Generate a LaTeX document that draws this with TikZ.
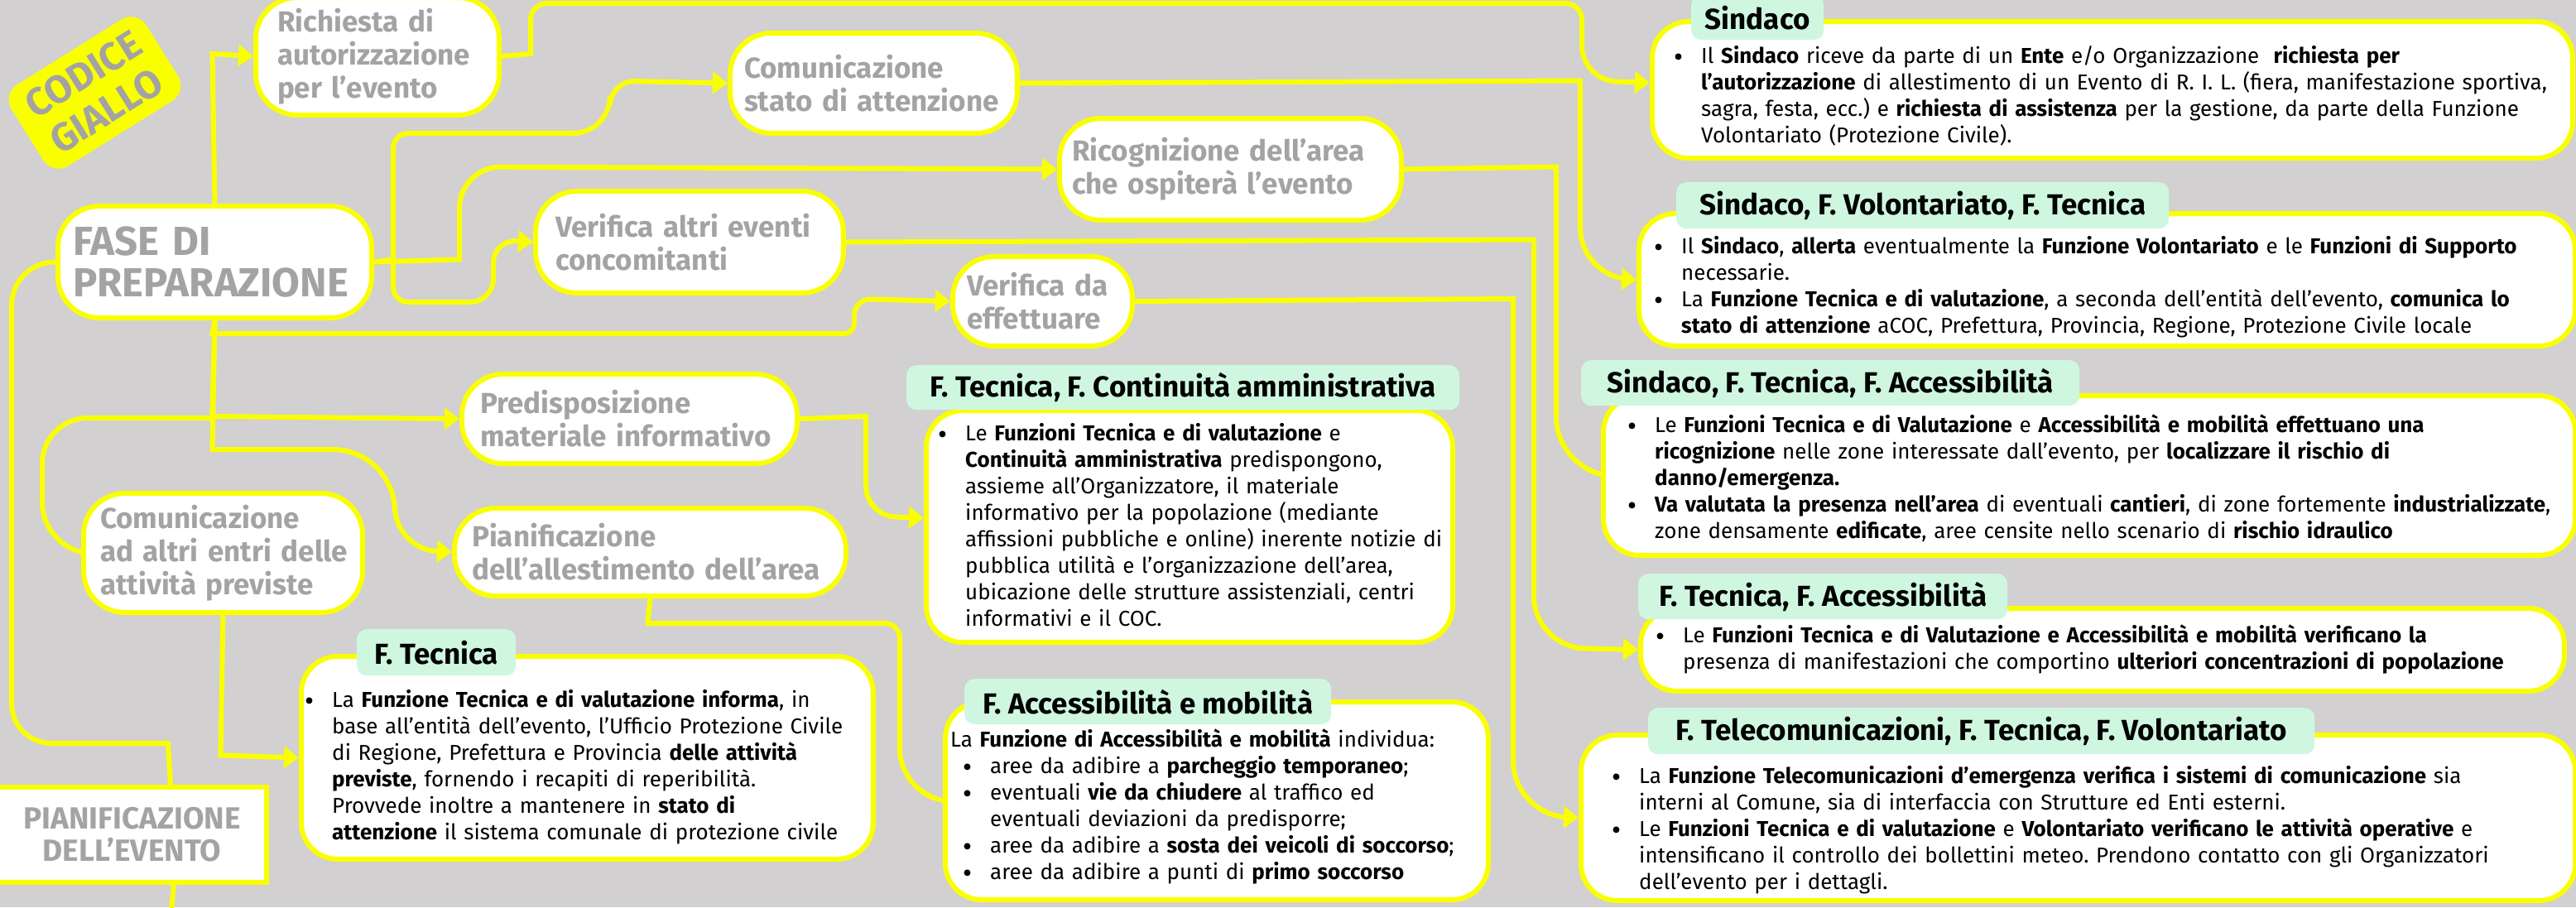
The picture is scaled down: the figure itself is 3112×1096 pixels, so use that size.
\documentclass[tikz,border=0pt]{standalone}
\usepackage{fontspec}
\setmainfont{Fira Sans}
\usepackage{enumitem}
\usetikzlibrary{arrows.meta}

\definecolor{giallo}{RGB}{250,255,0}
\definecolor{sfondo}{RGB}{210,208,209}
\definecolor{grigio}{RGB}{163,163,163}
\definecolor{menta}{RGB}{207,247,224}

\newcommand{\txtbody}{\fontsize{26}{32}\selectfont}
\newcommand{\txtlab}{\fontsize{35}{40}\selectfont\bfseries}
\newcommand{\txtfase}{\fontsize{49}{50}\selectfont\bfseries}
\newcommand{\txttab}{\fontsize{35}{40}\selectfont\bfseries}
\newcommand{\txtpian}{\fontsize{37}{39}\selectfont\bfseries}
\newcommand{\txtcod}{\fontsize{47}{52}\selectfont\bfseries}

\setlength{\parindent}{0pt}
\setlist[itemize]{label={\raisebox{-4pt}{\fontsize{34}{32}\selectfont\textbullet}}, leftmargin=36pt,
    labelsep=22pt, labelwidth=14pt, itemsep=0pt, topsep=0pt, parsep=0pt, partopsep=0pt}

\pgfdeclarelayer{bg}
\pgfdeclarelayer{wires}
\pgfsetlayers{bg,wires,main}

\tikzset{
    wire/.style={draw=giallo, line width=6pt},
    link/.style={wire, -{Triangle[length=18pt,width=26pt]}},
    rc/.style={rounded corners=#1pt},
    phase/.style={draw=giallo, fill=white, line width=6pt, rounded corners=50pt,
        text=grigio, font=\txtlab, align=left, anchor=north west, inner ysep=0pt},
    infobox/.style={draw=giallo, fill=white, line width=6pt, rounded corners=44pt,
        anchor=north west, inner sep=0pt},
    tab/.style={fill=menta, rounded corners=12pt, anchor=north west, inner sep=0pt,
        font=\txttab, align=center},
    body/.style={anchor=north west, inner sep=0pt, text width=1200pt, align=left,
        font=\txtbody}
}

\begin{document}
\frenchspacing\hyphenpenalty=10000
\begin{tikzpicture}[x=1pt,y=-1pt]
    \useasboundingbox (0,0) rectangle (3112,1096);
    \begin{pgfonlayer}{bg}
        \fill[sfondo] (0,0) rectangle (3112,1096);
    \end{pgfonlayer}

    \node[fill=giallo, rounded corners=22pt, rotate=32, minimum width=192pt, minimum height=116pt,
        text=grigio, font=\txtcod, align=center, inner sep=0pt] (codice) at (114.5,112) {CODICE\\GIALLO};

    % fasi
    \node[phase, font=\txtfase, minimum height=135pt, text width=343pt, inner xsep=18pt] (fase) at (67,246) {FASE DI\\\mbox{PREPARAZIONE}};
    \node[phase, minimum height=142pt, text width=242pt, inner xsep=26pt] (rich) at (306,-6) {Richiesta di\\\mbox{autorizzazione}\\per l’evento};
    \node[phase, minimum height=121pt, text width=313pt, inner xsep=17pt] (comst) at (879,37) {Comunicazione\\\mbox{stato di attenzione}};
    \node[phase, minimum height=123pt, text width=383pt, inner xsep=15pt] (ricog) at (1277,140) {\mbox{Ricognizione dell’area}\\\mbox{che ospiterà l’evento}};
    \node[phase, minimum height=123pt, text width=324pt, inner xsep=24pt] (veralt) at (644,228) {\mbox{Verifica altri eventi}\\concomitanti};
    \node[phase, minimum height=108pt, text width=183pt, inner xsep=17pt] (verda) at (1148,307) {\mbox{Verifica da}\\effettuare};
    \node[phase, minimum height=108pt, text width=361pt, inner xsep=22pt] (predisp) at (555,449) {Predisposizione\\\mbox{materiale informativo}};
    \node[phase, minimum height=144pt, text width=297pt, inner xsep=20pt] (comalt) at (98,593) {Comunicazione\\\mbox{ad altri entri delle}\\\mbox{attività previste}};
    \node[phase, minimum height=106pt, text width=431pt, inner xsep=21pt] (pianall) at (546,611) {Pianificazione\\\mbox{dell’allestimento dell’area}};
    \node[phase, sharp corners, font=\txtpian, align=center, minimum width=325pt, minimum height=115pt] (pianev) at (-6,948) {PIANIFICAZIONE\\DELL’EVENTO};

    % riquadri
    \node[infobox, minimum width=1112pt, minimum height=165pt] (sind) at (1993,23) {};
    \node[infobox, minimum width=1131pt, minimum height=160pt] (sindvol) at (1977,255) {};
    \node[infobox, minimum width=1174pt, minimum height=193pt] (sindtec) at (1934,475) {};
    \node[infobox, minimum width=1116pt, minimum height=100pt] (tecacc) at (1979,732) {};
    \node[infobox, minimum width=1201pt, minimum height=200pt] (telecom) at (1907,885) {};
    \node[infobox, minimum width=636pt, minimum height=280pt] (contin) at (1116,493) {};
    \node[infobox, minimum width=656pt, minimum height=239pt] (accmob) at (1139,845) {};
    \node[infobox, minimum width=691pt, minimum height=245pt] (tecn) at (361,790) {};

    \node[tab, minimum width=160pt, minimum height=54pt] (tsind) at (2043,-6) {Sindaco};
    \node[tab, minimum width=595pt, minimum height=56pt] (tsindvol) at (2025,220) {Sindaco, F. Volontariato, F. Tecnica};
    \node[tab, minimum width=602pt, minimum height=55pt] (tsindtec) at (1910,435) {Sindaco, F. Tecnica, F. Accessibilità};
    \node[tab, minimum width=446pt, minimum height=55pt] (ttecacc) at (1979,693) {F. Tecnica, F. Accessibilità};
    \node[tab, minimum width=805pt, minimum height=56pt] (ttelecom) at (1991,855) {F. Telecomunicazioni, F. Tecnica, F. Volontariato};
    \node[tab, minimum width=668pt, minimum height=54pt] (tcontin) at (1095,441) {F. Tecnica, F. Continuità amministrativa};
    \node[tab, minimum width=443pt, minimum height=55pt] (taccmob) at (1165,820) {F. Accessibilità e mobilità};
    \node[tab, minimum width=192pt, minimum height=56pt] (ttecn) at (431,760) {F. Tecnica};

    \node[body] (sindtxt) at (2019,44) {\begin{itemize}
        \item Il \textbf{Sindaco} riceve da parte di un \textbf{Ente} e/o Organizzazione\ \ \textbf{richiesta per}\newline
        \textbf{l’autorizzazione} di allestimento di un Evento di R. I. L. (fiera, manifestazione sportiva,\newline
        sagra, festa, ecc.) e \textbf{richiesta di assistenza} per la gestione, da parte della Funzione\newline
        Volontariato (Protezione Civile).
    \end{itemize}};
    \node[body] (sindvoltxt) at (1995,274) {\begin{itemize}
        \item Il \textbf{Sindaco}, \textbf{allerta} eventualmente la \textbf{Funzione Volontariato} e le \textbf{Funzioni di Supporto}\newline
        necessarie.
        \item La \textbf{Funzione Tecnica e di valutazione}, a seconda dell’entità dell’evento, \textbf{comunica lo}\newline
        \textbf{stato di attenzione} aCOC, Prefettura, Provincia, Regione, Protezione Civile locale
    \end{itemize}};
    \node[body] (sindtectxt) at (1963,490) {\begin{itemize}
        \item Le \textbf{Funzioni Tecnica e di Valutazione} e \textbf{Accessibilità e mobilità effettuano una}\newline
        \textbf{ricognizione} nelle zone interessate dall’evento, per \textbf{localizzare il rischio di}\newline
        \textbf{danno/emergenza.}
        \item \textbf{Va valutata la presenza nell’area} di eventuali \textbf{cantieri}, di zone fortemente \textbf{industrializzate},\newline
        zone densamente \textbf{edificate}, aree censite nello scenario di \textbf{rischio idraulico}
    \end{itemize}};
    \node[body] (tecacctxt) at (1997,744) {\begin{itemize}
        \item Le \textbf{Funzioni Tecnica e di Valutazione e Accessibilità e mobilità verificano la}\newline
        presenza di manifestazioni che comportino \textbf{ulteriori concentrazioni di popolazione}
    \end{itemize}};
    \node[body] (telecomtxt) at (1944,914) {\begin{itemize}
        \item La \textbf{Funzione Telecomunicazioni d’emergenza verifica i sistemi di comunicazione} sia\newline
        interni al Comune, sia di interfaccia con Strutture ed Enti esterni.
        \item Le \textbf{Funzioni Tecnica e di valutazione} e \textbf{Volontariato verificano le attività operative} e\newline
        intensificano il controllo dei bollettini meteo. Prendono contatto con gli Organizzatori\newline
        dell’evento per i dettagli.
    \end{itemize}};
    \node[body] (contintxt) at (1130,500) {\begin{itemize}
        \item Le \textbf{Funzioni Tecnica e di valutazione} e\newline
        \textbf{Continuità amministrativa} predispongono,\newline
        assieme all’Organizzatore, il materiale\newline
        informativo per la popolazione (mediante\newline
        affissioni pubbliche e online) inerente notizie di\newline
        pubblica utilità e l’organizzazione dell’area,\newline
        ubicazione delle strutture assistenziali, centri\newline
        informativi e il COC.
    \end{itemize}};
    \node[body] (accmobtxt) at (1148,881) {La \textbf{Funzione di Accessibilità e mobilità} individua:
        \begin{itemize}[leftmargin=48pt]
        \item aree da adibire a \textbf{parcheggio temporaneo};
        \item eventuali \textbf{vie da chiudere} al traffico ed\newline
        eventuali deviazioni da predisporre;
        \item aree da adibire a \textbf{sosta dei veicoli di soccorso};
        \item aree da adibire a punti di \textbf{primo soccorso}
    \end{itemize}};
    \node[body] (tecntxt) at (365,822) {\begin{itemize}
        \item La \textbf{Funzione Tecnica e di valutazione informa}, in\newline
        base all’entità dell’evento, l’Ufficio Protezione Civile\newline
        di Regione, Prefettura e Provincia \textbf{delle attività}\newline
        \textbf{previste}, fornendo i recapiti di reperibilità.\newline
        Provvede inoltre a mantenere in \textbf{stato di}\newline
        \textbf{attenzione} il sistema comunale di protezione civile
    \end{itemize}};

    % collegamenti
    \begin{pgfonlayer}{wires}
        \draw[link] (fase.north) -- (256.5,65) [rc=22] -- (rich.west);
        \draw[link] (rich.east) -- (641,65) [rc=20] -- (641,4) -- (1911,4) [rc=42] -- (1911,97) [rc=28] -- ([yshift=8.5pt]sind.west);
        \draw[link] (comst.east) -- (1909,97.5) [rc=60] -- (1909,335) [rc=28] -- (sindvol.west);
        \draw[link] (fase.east) -- (475,313.5) [rc=18] -- (475,161) [rc=45] -- (737,161) [rc=30] -- (737,97.5) -- (comst.west);
        \draw[link] (fase.east) -- (555,313.5) [rc=50] -- (555,201.5) -- (ricog.west);
        \draw[link] (fase.east) -- (475,313.5) [rc=18] -- (475,365) [rc=28] -- (596,365) -- (596,289.5) [rc=22] -- (veralt.west);
        \draw[link] (fase.south) -- (256.5,403) [rc=12] -- (1032,403) [rc=20] -- (1032,361) -- (verda.west);
        \draw[link] (fase.south) -- (256.5,503) [rc=52] -- (predisp.west);
        \draw[link] (fase.south) -- (256.5,543) [rc=75] -- (477,543) [rc=52] -- (477,664) [rc=26] -- (pianall.west);
        \draw[link] (fase.south) -- (256.5,505) [rc=55] -- (51,505) [rc=58] -- (51,665) [rc=24] -- (comalt.west);
        \draw[link] ([xshift=46.5pt]pianev.north) -- (203,898) [rc=48] -- (14,898) [rc=56] -- (14,313.5) [rc=18] -- (fase.west);
        \draw[wire] ([xshift=50.5pt]pianev.south) -- (207,1100);
        \draw[link] (comalt.south) -- (266.5,912.5) [rc=40] -- (tecn.west);
        \draw[link] (pianall.south) -- (782.5,753) [rc=18] -- (1087,753) [rc=60] -- (1087,964.5) [rc=26] -- (accmob.west);
        \draw[link] (predisp.east) -- (1046,503) [rc=36] -- (1046,623) [rc=24] -- ([yshift=10pt]contin.west);
        \draw[link] (ricog.east) -- (1880,201.5) [rc=68] -- (1880,571.5) [rc=28] -- (sindtec.west);
        \draw[link] (veralt.east) -- (1853,289.5) [rc=62] -- (1853,782) [rc=28] -- (tecacc.west);
        \draw[link] (verda.east) -- (1828,361) [rc=66] -- (1828,985) [rc=30] -- (telecom.west);
    \end{pgfonlayer}
\end{tikzpicture}
\end{document}
